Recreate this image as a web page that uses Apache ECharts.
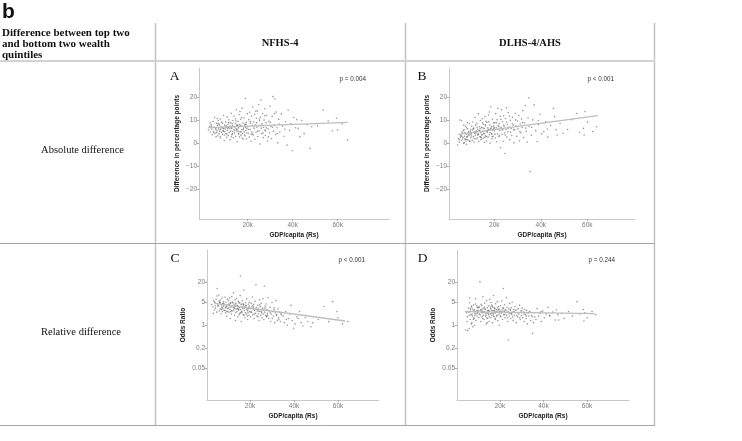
<!DOCTYPE html>
<html><head><meta charset="utf-8">
<script src="https://cdn.jsdelivr.net/npm/echarts@6/dist/echarts.min.js"></script>
<style>html,body{margin:0;padding:0;background:#fff}#c{width:742px;height:441px}</style>
</head><body><div id="c"></div>
<script>
// ---------- DATA ----------
// GDP per capita (thousand Rs) of districts, NFHS-4
const nfhsGdp = [2.6,3.1,3.5,3.8,4.0,4.3,4.6,4.9,5.1,5.3,5.6,5.8,6.0,6.2,6.4,6.6,6.8,7.0,7.1,7.3,7.5,7.7,7.9,8.0,8.2,8.4,8.6,8.8,8.9,9.1,9.3,9.4,9.6,9.8,9.9,4.2,5.0,6.9,7.8,8.5,9.0,3.3,5.9,6.5,9.7,
10.1,10.2,10.4,10.5,10.7,10.9,11.0,11.2,11.4,11.5,11.7,11.9,12.0,12.2,12.4,12.5,12.7,12.9,13.0,13.2,13.4,13.5,13.7,13.9,14.0,14.2,14.4,14.5,14.7,14.9,15.0,15.2,15.4,15.5,15.7,15.9,16.0,16.2,16.4,16.5,16.7,16.9,17.0,17.2,17.4,17.5,17.7,17.9,18.0,18.2,18.4,18.5,18.7,18.9,19.0,19.2,19.4,19.5,19.7,19.9,15.6,12.6,13.3,14.6,15.8,16.6,17.6,18.8,19.6,11.3,
20.1,20.3,20.5,20.7,20.9,21.1,21.3,21.5,21.7,21.9,22.1,22.3,22.5,22.7,22.9,23.1,23.3,23.5,23.7,23.9,24.1,24.3,24.5,24.7,24.9,25.1,25.3,25.5,25.7,25.9,26.1,26.3,26.5,26.7,26.9,27.1,27.3,27.5,27.7,27.9,28.2,28.5,28.8,29.1,29.4,29.7,30.0,30.3,30.6,30.9,31.2,31.5,31.8,32.1,32.4,32.7,33.0,33.4,33.8,34.3,
35.0,35.6,36.2,36.9,37.5,38.0,38.6,39.2,39.8,40.5,41.3,42.5,43.2,44.0,45.1,46.3,47.7,
51.0,53.6,55.8,57.6,59.5,59.9,62.0,64.4,
5.4,6.3,7.2,8.1,9.2,10.3,10.8,11.6,12.1,12.8,13.6,14.3,14.8,15.3,16.1,16.8,17.3,18.1,18.6,19.3,20.4,21.2,22.0,22.8,23.6,24.4,25.2,26.0,26.8,27.6,28.4,29.2,30.1,31.0,32.0,33.1,34.0,36.5,41.8,48.5,3.9,7.6,11.1,13.1,15.1,17.1,19.1,21.6,24.0,28.0];
// Panel A: absolute difference (percentage points), NFHS-4
const absNfhs = [5.8,7.4,4.9,8.2,6.1,3.7,9.5,5.2,7.0,11.3,4.4,6.6,2.9,8.8,5.5,7.7,3.3,9.9,6.3,4.1,8.0,5.9,10.6,2.2,7.2,4.8,6.9,8.7,3.9,5.6,12.1,6.4,1.2,7.9,5.0,6.8,4.6,8.4,3.0,9.2,6.7,8.9,6.0,10.8,3.6,
6.2,9.4,4.3,7.6,2.6,11.5,5.7,8.3,3.4,6.9,10.2,4.7,7.4,1.6,8.9,5.3,13.1,6.5,3.8,7.8,5.0,9.9,2.4,6.0,11.8,4.5,7.1,8.6,3.1,6.3,14.6,5.4,0.7,7.5,9.6,4.0,6.7,12.4,2.8,8.1,5.1,10.5,3.5,7.3,6.0,15.3,4.2,8.8,1.9,6.6,11.0,4.9,7.9,3.2,19.5,5.6,9.1,2.0,6.4,12.9,8.0,7.0,4.1,10.7,5.2,13.8,2.3,8.4,4.6,7.0,
7.2,4.4,10.3,2.7,13.5,6.1,8.7,0.9,11.9,5.0,7.8,15.8,3.6,9.3,6.4,12.6,1.8,8.1,4.8,10.9,6.9,14.1,3.0,7.6,16.9,5.5,9.8,-0.3,11.4,18.8,6.6,4.2,8.5,13.0,2.5,7.0,10.1,5.8,15.0,3.4,8.9,12.2,1.0,6.2,9.6,4.6,16.2,7.4,2.1,11.7,20.3,5.3,8.0,19.3,3.8,13.6,6.8,0.2,10.4,4.9,
12.8,7.5,3.1,9.4,-0.8,14.4,5.7,8.6,-3.2,11.2,6.8,6.5,2.9,9.9,4.2,8.1,-2.2,
7.6,14.5,9.7,5.5,10.9,5.8,8.4,1.4,
6.9,4.7,8.5,6.2,5.3,7.0,4.0,9.0,6.4,3.0,7.3,5.6,9.7,6.1,4.4,7.7,11.2,5.9,3.6,8.2,6.0,9.5,4.1,7.1,13.9,5.2,10.6,8.0,4.5,12.0,6.7,2.8,9.1,7.0,12.9,4.3,8.4,6.1,10.3,7.2,7.5,5.1,6.5,8.7,7.9,4.9,6.9,3.9,9.0,5.4];
// Panel C: odds ratio, NFHS-4
const orNfhs = [4.2,3.6,5.5,2.9,4.8,3.3,6.1,2.5,13.0,4.4,3.9,8.3,2.7,4.9,3.1,5.8,2.2,4.1,3.5,6.7,2.6,4.6,3.8,5.2,2.9,4.3,7.1,3.4,2.4,5.0,3.7,1.9,4.0,6.2,3.2,3.9,7.7,3.0,4.5,2.8,3.6,2.3,5.4,4.7,2.6,
3.3,5.6,2.5,4.2,6.8,3.0,1.6,4.9,3.6,2.2,7.4,3.9,5.1,2.7,3.4,9.6,4.4,2.0,3.8,5.9,1.4,4.6,3.1,6.5,2.6,4.0,3.3,1.8,5.3,2.9,4.7,3.5,2.3,7.9,3.0,4.3,1.3,3.7,2.5,5.6,3.2,2.1,4.1,11.5,2.8,3.6,1.7,4.8,2.4,3.9,2.2,6.3,3.1,1.5,2.7,4.4,3.4,2.0,5.0,2.6,30.5,2.9,4.1,3.0,2.4,4.5,3.3,1.9,3.8,2.6,
3.2,1.8,4.6,2.5,3.6,7.2,2.1,3.0,4.3,1.6,2.8,5.3,2.3,17.0,3.4,1.9,2.7,4.0,2.2,3.1,1.4,5.9,2.6,3.7,2.0,4.6,2.4,1.7,3.3,6.4,2.9,1.5,15.5,2.5,3.8,2.0,4.4,1.8,3.0,2.3,6.8,1.6,2.7,3.5,1.3,2.2,4.9,2.6,1.9,3.4,1.2,2.4,5.6,2.0,1.4,3.1,1.7,2.5,1.3,2.1,
1.9,1.2,2.6,1.0,1.6,2.2,4.0,1.4,0.81,1.1,1.8,2.6,1.2,0.95,1.7,1.3,0.9,
1.5,3.7,1.29,5.2,2.6,1.7,1.1,1.3,
3.8,5.0,3.0,4.3,2.7,4.4,3.6,2.8,4.8,3.4,2.4,3.9,3.1,4.9,2.6,3.5,2.0,4.0,2.9,3.2,2.5,3.9,2.2,3.0,1.8,4.2,2.6,2.2,3.3,1.9,2.8,2.4,1.6,3.0,2.1,1.5,2.3,1.5,1.6,1.2,5.1,3.3,4.6,3.2,2.1,4.3,2.4,3.6,2.7,2.0];

// GDP per capita (thousand Rs) of districts, DLHS-4/AHS
const dlhsGdp = [4.2,4.6,5.0,5.2,5.5,5.8,6.0,6.3,6.5,6.8,7.0,7.2,7.5,7.7,7.9,8.1,8.3,8.5,8.7,8.9,9.1,9.3,9.5,9.7,9.9,4.9,5.9,6.7,7.4,8.0,8.8,9.4,6.1,7.1,8.4,9.6,5.4,6.9,8.2,9.8,
10.1,10.3,10.5,10.6,10.8,11.0,11.2,11.3,11.5,11.7,11.8,12.0,12.2,12.3,12.5,12.7,12.8,13.0,13.2,13.3,13.5,13.7,13.8,14.0,14.2,14.3,14.5,14.7,14.8,15.0,15.2,15.3,15.5,15.7,15.8,16.0,16.2,16.3,16.5,16.7,16.8,17.0,17.2,17.3,17.5,17.7,17.8,18.0,18.2,18.3,18.5,18.7,18.8,19.0,19.2,19.3,19.5,19.7,19.8,11.9,12.9,13.9,14.9,15.9,16.9,17.9,18.9,19.9,14.1,16.4,
20.0,20.2,20.4,20.6,20.8,21.0,21.2,21.4,21.5,21.7,21.9,22.1,22.3,22.5,22.7,22.9,23.1,23.3,23.5,23.7,23.8,24.0,24.2,24.4,24.6,24.8,25.0,25.2,25.4,25.6,25.8,26.0,26.3,26.6,26.9,27.2,27.5,27.8,28.1,28.4,28.7,29.0,29.3,29.6,29.9,30.2,30.5,30.8,31.1,31.4,31.7,32.0,32.3,32.6,32.9,33.3,33.7,34.1,34.5,34.8,
35.0,35.4,35.9,36.5,37.1,37.8,38.4,39.0,39.7,40.4,41.3,42.1,43.0,44.2,45.4,45.9,46.6,47.0,48.3,49.5,
51.5,53.2,55.4,56.7,58.3,58.6,59.0,60.1,62.3,64.0,
5.7,6.4,7.3,8.2,9.0,10.2,10.9,11.4,12.1,12.6,13.1,13.6,14.4,15.1,15.6,16.1,16.6,17.1,17.6,18.1,18.6,19.1,19.6,20.3,20.9,21.6,22.2,22.8,23.4,24.1,24.7,25.3,25.9,26.5,27.0,27.7,28.3,29.1,30.0,31.0,32.1,33.5,36.0,38.9,42.8,7.8,11.6,14.6,17.4,22.0];
// Panel B: absolute difference (percentage points), DLHS-4/AHS
const absDlhs = [-0.7,2.1,0.5,10.1,3.6,1.2,9.8,4.4,2.6,0.0,5.9,3.1,1.8,7.4,4.0,-0.4,2.9,6.3,1.4,4.7,3.3,8.6,0.8,5.2,2.4,1.6,3.0,5.5,2.0,6.8,3.7,1.0,4.9,0.3,9.0,3.9,2.7,7.9,1.7,6.0,
4.2,7.5,1.3,5.8,9.3,2.9,6.6,0.6,4.9,11.2,3.5,7.9,1.9,5.3,8.7,2.4,6.1,4.0,12.8,0.9,5.6,7.2,3.0,9.9,4.6,1.6,6.9,3.8,10.7,5.1,2.2,8.3,4.4,6.4,0.4,11.6,3.3,7.6,5.4,1.0,9.1,4.8,6.7,2.7,12.3,5.9,3.7,8.0,0.1,6.2,15.9,4.3,7.3,2.0,10.5,5.7,3.1,8.8,6.5,5.0,3.6,6.3,8.9,2.6,5.2,13.6,4.0,7.0,2.8,9.6,
5.5,9.0,2.3,12.9,6.8,0.7,10.3,4.1,15.2,7.7,3.0,8.6,5.6,11.8,-1.8,6.9,14.6,3.9,9.4,6.2,0.9,12.0,7.4,4.5,-4.4,10.8,6.0,15.5,2.7,8.2,5.0,13.4,7.1,1.6,10.0,6.5,3.4,11.3,8.0,0.2,5.8,13.1,7.6,3.1,9.7,6.3,12.1,1.1,8.4,4.6,10.6,6.9,14.2,2.5,8.9,16.4,5.2,0.6,11.0,19.8,
7.3,-12.3,3.5,10.2,16.7,5.4,0.8,8.2,12.6,4.1,5.0,9.4,2.7,7.8,15.2,11.6,5.9,3.6,8.6,4.4,
6.0,10.3,13.0,4.8,6.5,3.6,13.8,9.2,5.1,7.2,
3.4,1.9,4.6,2.8,5.0,3.2,6.3,2.1,4.5,7.0,3.9,5.3,2.5,6.7,4.1,8.1,3.0,5.6,9.4,4.7,6.6,2.9,7.5,4.0,8.9,6.1,3.3,10.4,5.8,7.9,3.6,9.3,6.4,11.9,4.8,8.5,6.0,10.2,7.3,5.1,9.0,6.6,7.0,9.9,6.2,1.0,4.4,3.6,6.0,7.2];
// Panel D: odds ratio, DLHS-4/AHS
const orDlhs = [0.72,2.4,1.8,0.70,3.3,2.0,4.8,1.5,2.9,1.1,3.6,2.2,0.9,2.7,4.1,1.7,3.0,2.3,6.3,1.4,2.6,3.9,1.9,2.5,3.4,1.3,0.8,2.1,3.1,1.6,4.4,2.8,6.7,1.2,2.0,3.5,2.6,3.8,1.0,2.3,
2.8,1.7,3.6,2.2,21.0,2.9,1.3,4.3,2.5,3.1,1.8,2.7,7.3,2.0,3.3,1.5,2.6,4.7,1.9,3.0,2.3,1.1,5.6,2.4,3.4,1.6,2.8,2.1,3.9,1.3,2.6,6.1,2.2,3.2,1.7,2.9,4.1,2.0,1.2,3.5,2.4,8.0,2.7,1.8,3.3,2.3,1.5,4.5,2.6,3.0,1.9,2.5,5.2,1.4,2.9,3.7,2.1,1.0,3.1,2.4,3.6,1.7,2.8,4.9,2.2,1.6,3.4,2.7,1.2,3.8,
2.6,3.9,1.8,2.3,5.4,2.9,1.5,3.3,13.0,2.1,2.7,4.2,1.7,3.0,2.4,6.9,2.0,3.5,1.3,2.6,0.36,3.1,1.9,4.6,2.3,2.8,1.6,3.4,2.2,5.0,2.5,1.4,3.0,2.0,3.7,2.4,1.2,2.9,1.8,3.2,2.2,4.0,1.5,2.7,2.0,3.3,1.7,2.5,1.3,3.0,2.1,1.6,2.8,1.1,2.3,1.9,2.6,1.4,2.0,1.8,
0.57,1.2,2.4,1.5,3.2,1.9,2.3,1.3,2.7,1.7,2.2,3.5,1.9,2.5,1.45,2.9,2.1,1.45,2.3,1.6,
2.6,1.9,5.2,2.2,3.0,1.35,2.4,1.7,2.6,2.1,
2.5,3.2,1.9,2.7,2.2,3.5,2.1,2.9,1.6,2.4,3.1,2.0,2.7,1.8,3.6,2.3,2.8,1.9,3.2,2.5,2.0,3.0,2.4,1.9,2.6,3.3,2.1,2.8,1.7,2.4,3.1,2.2,1.8,2.6,2.9,2.0,2.4,1.7,2.8,2.2,1.9,2.5,1.8,2.6,2.0,1.5,3.9,2.3,2.8,2.6];

// Fitted regression lines (endpoints)
const fitX_A = [2.5, 64.4], fitY_A = [6.8, 9.1];
const fitX_B = [4.5, 64.5], fitY_B = [3.9, 12.0];
const fitX_C = [4.1, 63.2], fitY_C = [4.6, 1.35];
const fitX_D = [3.9, 63.4], fitY_D = [2.58, 2.25];

// Tick labels
const gdpTicks = [20, 40, 60];
const absTicks = [-20, -10, 0, 10, 20];
const orTicks = [0.05, 0.2, 1, 5, 20];

// Texts
const panelLetters = ['A', 'B', 'C', 'D'];
const pValues = ['p = 0.004', 'p < 0.001', 'p < 0.001', 'p = 0.244'];
const colHeads = ['NFHS-4', 'DLHS-4/AHS'];
const rowHeads = ['Absolute difference', 'Relative difference'];
const cornerHead = 'Difference between top two\nand bottom two wealth\nquintiles';

// ---------- CHART ----------
const SANS = '"Liberation Sans", Arial, sans-serif';
const SERIF = '"Liberation Serif", "Times New Roman", serif';
const AXIS_COL = '#c9c9c9';
const LABEL_COL = '#7a7a7a';

const grids = [
  {left: 199, top: 68, width: 190, height: 151},
  {left: 449, top: 68, width: 186, height: 151},
  {left: 207, top: 250, width: 172, height: 150},
  {left: 457, top: 250, width: 172, height: 150}
];
const xRanges = [[-1.6, 82.8], [0.5, 80.5], [0.45, 78.6], [0.25, 79.3]];

function xAxisCfg(i) {
  return {
    type: 'value', gridIndex: i, min: xRanges[i][0], max: xRanges[i][1],
    axisLine: {show: true, onZero: false, lineStyle: {color: AXIS_COL, width: 1}},
    axisTick: {show: true, length: 2, customValues: gdpTicks, lineStyle: {color: '#aaa'}},
    axisLabel: {customValues: gdpTicks, formatter: v => v + 'k', fontSize: 6.5, color: LABEL_COL, margin: 3, fontFamily: SANS},
    splitLine: {show: false},
    name: 'GDP/capita (Rs)', nameLocation: 'middle', nameGap: 13,
    nameTextStyle: {fontSize: 6.5, fontWeight: 'bold', color: '#222', fontFamily: SANS}
  };
}
function yAbsCfg(i) {
  return {
    type: 'value', gridIndex: i, min: -32.9, max: 32.75,
    axisLine: {show: true, onZero: false, lineStyle: {color: AXIS_COL, width: 1}},
    axisTick: {show: true, length: 2, customValues: absTicks, lineStyle: {color: '#aaa'}},
    axisLabel: {customValues: absTicks, fontSize: 6.5, color: LABEL_COL, margin: 2, fontFamily: SANS,
      formatter: v => (v < 0 ? '\u2212' + Math.abs(v) : String(v))},
    splitLine: {show: false},
    name: 'Difference in percentage points', nameLocation: 'middle', nameGap: 18,
    nameTextStyle: {fontSize: 6.5, fontWeight: 'bold', color: '#222', fontFamily: SANS}
  };
}
function yOrCfg(i) {
  return {
    type: 'log', logBase: 10, gridIndex: i, min: 0.00545, max: 191,
    axisLine: {show: true, onZero: false, lineStyle: {color: AXIS_COL, width: 1}},
    axisTick: {show: true, length: 2, customValues: orTicks, lineStyle: {color: '#aaa'}},
    axisLabel: {customValues: orTicks, fontSize: 6.5, color: LABEL_COL, margin: 2, fontFamily: SANS,
      formatter: v => String(v)},
    splitLine: {show: false},
    minorTick: {show: false},
    name: 'Odds Ratio', nameLocation: 'middle', nameGap: 20,
    nameTextStyle: {fontSize: 6.5, fontWeight: 'bold', color: '#222', fontFamily: SANS}
  };
}

function pairs(xs, ys) { return xs.map((x, k) => [x, ys[k]]); }
function scatter(i, xs, ys) {
  return {type: 'scatter', xAxisIndex: i, yAxisIndex: i, data: pairs(xs, ys),
    symbol: 'circle', symbolSize: 1.6, itemStyle: {color: 'rgba(85,85,85,0.75)'}, silent: true, z: 3};
}
function fitLine(i, xs, ys) {
  return {type: 'line', xAxisIndex: i, yAxisIndex: i, data: pairs(xs, ys),
    symbol: 'none', lineStyle: {color: '#bdbdbd', width: 1.3}, silent: true, z: 4};
}

const L = (x1, y1, x2, y2, color, w) => ({type: 'line', shape: {x1, y1, x2, y2}, style: {stroke: color, lineWidth: w}, silent: true});
const T = (text, x, y, opt) => ({type: 'text', x, y, silent: true, style: Object.assign({text, fill: '#111'}, opt)});

const graphics = [
  L(155.5, 23, 155.5, 426, '#c4c4c4', 1.5),
  L(405.5, 23, 405.5, 426, '#c4c4c4', 1.5),
  L(654.5, 23, 654.5, 426, '#c4c4c4', 1.5),
  L(0, 61, 655, 61, '#d2d2d2', 2),
  L(0, 243.5, 655, 243.5, '#a6a6a6', 1),
  L(0, 425.5, 655, 425.5, '#a6a6a6', 1),
  T('b', 2, 1.5, {fontFamily: SANS, fontWeight: 'bold', fontSize: 21, align: 'left', verticalAlign: 'top', textAlign: 'left', textVerticalAlign: 'top'}),
  T(cornerHead, 2, 27.5, {fontFamily: SERIF, fontWeight: 'bold', fontSize: 11, lineHeight: 11, align: 'left', verticalAlign: 'top', textAlign: 'left', textVerticalAlign: 'top'}),
  T(colHeads[0], 280, 43, {fontFamily: SERIF, fontWeight: 'bold', fontSize: 10.5, align: 'center', verticalAlign: 'middle', textAlign: 'center', textVerticalAlign: 'middle'}),
  T(colHeads[1], 530, 43, {fontFamily: SERIF, fontWeight: 'bold', fontSize: 10.5, align: 'center', verticalAlign: 'middle', textAlign: 'center', textVerticalAlign: 'middle'}),
  T(rowHeads[0], 82.5, 150, {fontFamily: SERIF, fontSize: 10.5, align: 'center', verticalAlign: 'middle', textAlign: 'center', textVerticalAlign: 'middle'}),
  T(rowHeads[1], 81, 332, {fontFamily: SERIF, fontSize: 10.5, align: 'center', verticalAlign: 'middle', textAlign: 'center', textVerticalAlign: 'middle'})
];
const letterPos = [[174.5, 76], [422, 76], [175, 258.5], [422.5, 258.5]];
const pPos = [[366, 79], [614, 79], [365, 260], [615, 260]];
for (let i = 0; i < 4; i++) {
  graphics.push(T(panelLetters[i], letterPos[i][0], letterPos[i][1], {fontFamily: SERIF, fontSize: 13.5, align: 'center', verticalAlign: 'middle', textAlign: 'center', textVerticalAlign: 'middle'}));
  graphics.push(T(pValues[i], pPos[i][0], pPos[i][1], {fontFamily: SANS, fontSize: 6.3, fill: '#333', align: 'right', verticalAlign: 'middle', textAlign: 'right', textVerticalAlign: 'middle'}));
}

const chart = echarts.init(document.getElementById('c'), null, {renderer: 'canvas'});
chart.setOption({
  animation: false,
  backgroundColor: '#fff',
  grid: grids.map(g => Object.assign({containLabel: false}, g)),
  xAxis: [xAxisCfg(0), xAxisCfg(1), xAxisCfg(2), xAxisCfg(3)],
  yAxis: [yAbsCfg(0), yAbsCfg(1), yOrCfg(2), yOrCfg(3)],
  series: [
    scatter(0, nfhsGdp, absNfhs), fitLine(0, fitX_A, fitY_A),
    scatter(1, dlhsGdp, absDlhs), fitLine(1, fitX_B, fitY_B),
    scatter(2, nfhsGdp, orNfhs), fitLine(2, fitX_C, fitY_C),
    scatter(3, dlhsGdp, orDlhs), fitLine(3, fitX_D, fitY_D)
  ],
  graphic: graphics
});
</script></body></html>
